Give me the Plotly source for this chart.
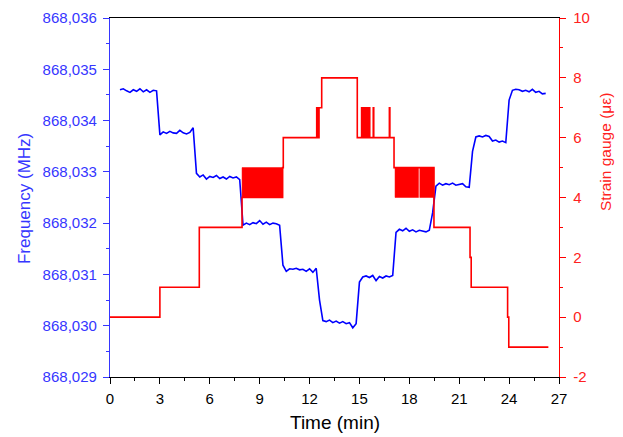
import plotly.graph_objects as go

# --- 数据：频率 (MHz)，采样起点 0.6 min，间隔 0.2 min ---
sample_start = 0.6
sample_step = 0.2
freq_mhz = [
    # 0.6 - 2.8
    868.03460, 868.03462, 868.03458, 868.03455, 868.03460, 868.03457,
    868.03462, 868.03456, 868.03460, 868.03455, 868.03459, 868.03458,
    # 3.0 - 5.2
    868.03372, 868.03378, 868.03375, 868.03379, 868.03376, 868.03375,
    868.03381, 868.03376, 868.03374, 868.03377, 868.03386,
    # 5.4 - 7.8
    868.03297, 868.03290, 868.03294, 868.03286, 868.03291, 868.03289, 868.03293,
    868.03287, 868.03290, 868.03286, 868.03291, 868.03288, 868.03290, 868.03285,
    # 8.0 - 10.2
    868.03196, 868.03200, 868.03197, 868.03201, 868.03199, 868.03205,
    868.03198, 868.03202, 868.03197, 868.03200, 868.03199, 868.03196,
    # 10.4
    868.03118,
    # 10.6 - 12.4
    868.03106, 868.03111, 868.03110, 868.03112, 868.03109, 868.03110,
    868.03106, 868.03111, 868.03104, 868.03112,
    # 12.6
    868.03050,
    # 12.8 - 14.8
    868.03010, 868.03008, 868.03011, 868.03006, 868.03009, 868.03005,
    868.03008, 868.03004, 868.03006, 868.02996, 868.03004,
    # 15.0
    868.03085,
    # 15.2 - 17.0
    868.03095, 868.03097, 868.03094, 868.03098, 868.03088,
    868.03096, 868.03093, 868.03097, 868.03095, 868.03098,
    # 17.2 - 19.2
    868.03182, 868.03188, 868.03185, 868.03190, 868.03184, 868.03187,
    868.03183, 868.03186, 868.03185, 868.03183, 868.03186,
    # 19.4
    868.03220,
    # 19.6 - 21.6
    868.03272, 868.03278, 868.03274, 868.03277, 868.03275, 868.03278,
    868.03274, 868.03276, 868.03277, 868.03271, 868.03270,
    # 21.8
    868.03340,
    # 22.0 - 23.8
    868.03368, 868.03370, 868.03368, 868.03371, 868.03369, 868.03360,
    868.03362, 868.03358, 868.03360, 868.03357,
    # 24.0
    868.03440,
    # 24.2 - 26.2
    868.03459, 868.03461, 868.03460, 868.03457, 868.03459, 868.03456,
    868.03461, 868.03455, 868.03457, 868.03452, 868.03453,
]
time_min = [round(sample_start + sample_step * i, 1) for i in range(len(freq_mhz))]

# --- 数据：应变 (με)，阶梯变化时刻与数值 ---
strain_t = [0, 3.0, 5.37, 7.94, 10.38, 10.42,
            12.43, 12.46, 12.5, 12.53, 12.57, 12.6, 12.73,
            14.87, 15.13, 15.16, 15.23, 15.26, 15.33, 15.36, 15.44, 15.47,
            15.53, 15.56, 15.59, 15.62, 15.83, 15.86, 16.8, 16.83,
            17.08, 19.48, 21.65, 21.72, 23.91, 23.98, 26.36]
strain_ue = [0, 1, 3, 4, 5, 6,
             7, 6, 7, 6, 7, 7, 8,
             6, 7, 6, 7, 6, 7, 6, 7, 6,
             7, 6, 7, 6, 7, 6, 7, 6,
             5, 3, 2, 1, 0, -1, -1]

# 应变在 4 与 5 之间快速跳动的时段
flicker_start = [7.94, 17.14, 18.63]
flicker_end = [10.38, 18.55, 19.48]
flicker_low = 4
flicker_high = 5

# --- 刻度 ---
x_ticks = [0, 3, 6, 9, 12, 15, 18, 21, 24, 27]
freq_ticks = [868.029, 868.030, 868.031, 868.032, 868.033, 868.034, 868.035, 868.036]
freq_ticktext = ['868,029', '868,030', '868,031', '868,032', '868,033', '868,034', '868,035', '868,036']
strain_ticks = [-2, 0, 2, 4, 6, 8, 10]
strain_ticktext = ['-2', '0', '2', '4', '6', '8', '10']

BLUE = '#0000ff'
BLUE_TXT = '#3636ff'
RED = '#ff0000'
RED_TXT = '#ff2020'
FONT = 'Liberation Sans, Arial, sans-serif'

fig = go.Figure()

# 跳动区域（红色块）
for s, e in zip(flicker_start, flicker_end):
    fig.add_trace(go.Scatter(
        x=[s, e, e, s, s],
        y=[flicker_low, flicker_low, flicker_high, flicker_high, flicker_low],
        mode='lines', fill='toself', fillcolor=RED,
        line=dict(color=RED, width=0.5),
        yaxis='y2', showlegend=False, hoverinfo='skip'
    ))

# 应变阶梯线
fig.add_trace(go.Scatter(
    x=strain_t, y=strain_ue, mode='lines',
    line=dict(color=RED, width=1.6, shape='hv'),
    yaxis='y2', name='Strain gauge', showlegend=False
))

# 频率曲线
fig.add_trace(go.Scatter(
    x=time_min, y=freq_mhz, mode='lines',
    line=dict(color=BLUE, width=1.6),
    yaxis='y', name='Frequency', showlegend=False
))

fig.update_layout(
    width=623, height=437,
    margin=dict(l=102, r=72, t=10, b=68),
    paper_bgcolor='white', plot_bgcolor='white',
    font=dict(family=FONT, size=15, color='black'),
    xaxis=dict(
        range=[0, 27], tickmode='array', tickvals=x_ticks,
        showline=True, linecolor='black', linewidth=1.3, mirror=True,
        ticks='outside', ticklen=6, tickwidth=1.2, tickcolor='black',
        minor=dict(tickmode='linear', tick0=0, dtick=1.5, ticks='outside',
                   ticklen=3, tickwidth=1.2, tickcolor='black'),
        showgrid=False, zeroline=False,
        tickfont=dict(size=15, color='black'), ticklabelstandoff=2,
        ticklabeloverflow='allow',
        automargin=False,
    ),
    yaxis=dict(
        range=[868.029, 868.036], tickmode='array', tickvals=freq_ticks, ticktext=freq_ticktext,
        showline=True, linecolor=BLUE_TXT, linewidth=1.3,
        ticks='outside', ticklen=6, tickwidth=1.2, tickcolor=BLUE_TXT,
        minor=dict(tickmode='linear', tick0=868.029, dtick=0.0005, ticks='outside',
                   ticklen=3, tickwidth=1.2, tickcolor=BLUE_TXT),
        showgrid=False, zeroline=False,
        tickfont=dict(size=15, color=BLUE_TXT), ticklabelstandoff=3,
        ticklabeloverflow='allow',
        automargin=False,
    ),
    yaxis2=dict(
        range=[-2, 10], overlaying='y', side='right',
        tickmode='array', tickvals=strain_ticks, ticktext=strain_ticktext,
        showline=True, linecolor=RED, linewidth=1.3,
        ticks='outside', ticklen=6, tickwidth=1.2, tickcolor=RED,
        minor=dict(tickmode='linear', tick0=-2, dtick=1, ticks='outside',
                   ticklen=3, tickwidth=1.2, tickcolor=RED),
        showgrid=False, zeroline=False,
        tickfont=dict(size=15, color=RED_TXT), ticklabelstandoff=4,
        ticklabeloverflow='allow',
        automargin=False,
    ),
    annotations=[
        dict(text='Time (min)', xref='paper', yref='paper', x=0.5, y=-0.128,
             xanchor='center', yanchor='middle', showarrow=False,
             font=dict(size=19, color='black')),
        dict(text='Frequency (MHz)', xref='paper', yref='paper', x=-0.189, y=0.496,
             xanchor='center', yanchor='middle', textangle=-90, showarrow=False,
             font=dict(size=17, color=BLUE_TXT)),
        dict(text='Strain gauge (με)', xref='paper', yref='paper', x=1.105, y=0.627,
             xanchor='center', yanchor='middle', textangle=-90, showarrow=False,
             font=dict(size=15.5, color=RED_TXT)),
    ],
)

fig.write_html("out.html")
